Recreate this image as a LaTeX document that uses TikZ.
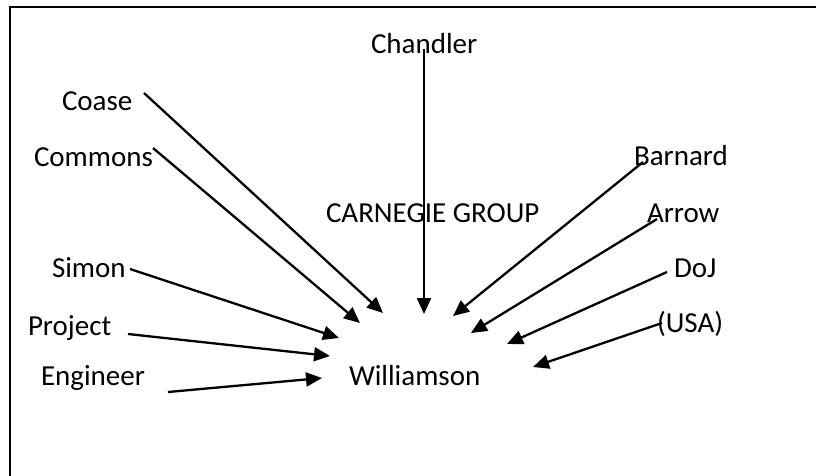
\documentclass[tikz,border=0pt]{standalone}
\usepackage{fontspec}
\setmainfont{Carlito}
\usetikzlibrary{arrows.meta}
\begin{document}
\begin{tikzpicture}[x=1pt,y=-1pt,
  label/.style={anchor=base west,inner sep=0pt,outer sep=0pt,
    font=\fontsize{29}{34}\selectfont},
  influence/.style={line width=2.3pt,-{Triangle[length=16pt,width=14pt]}}]
  \useasboundingbox (0,0) rectangle (816,475);
  % frame, open at right and bottom
  \draw[line width=2pt] (10,490) -- (10,6.5) -- (830,6.5);

  % names
  \node[label] (chandler)   at (371,53)  {Chandler};
  \node[label] (coase)      at (62,110)  {Coase};
  \node[label] (commons)    at (34,166)  {Commons};
  \node[label] (carnegie)   at (326,222) {CARNEGIE GROUP};
  \node[label] (simon)      at (52,277)  {Simon};
  \node[label] (project)    at (28,335)  {Project};
  \node[label] (engineer)   at (41,385)  {Engineer};
  \node[label] (williamson) at (349,385) {Williamson};
  \node[label] (barnard)    at (634,165) {Barnard};
  \node[label] (arrow)      at (647,222) {Arrow};
  \node[label] (doj)        at (674,277) {DoJ};
  \node[label] (usa)        at (657,332) {(USA)};

  % start points of the connectors
  \coordinate (sChandler) at (424,49);
  \coordinate (sCoase)    at (144,93);
  \coordinate (sCommons)  at (153,148);
  \coordinate (sSimon)    at (130,269);
  \coordinate (sProject)  at (128,334);
  \coordinate (sEngineer) at (168,392);
  \coordinate (sBarnard)  at (643,162);
  \coordinate (sArrow)    at (657,219);
  \coordinate (sDoj)      at (667,272);
  \coordinate (sUsa)      at (662,323);

  % arrow tips around Williamson
  \coordinate (tChandler) at (424,314);
  \coordinate (tCoase)    at (383,313);
  \coordinate (tCommons)  at (360,323);
  \coordinate (tSimon)    at (339,338);
  \coordinate (tProject)  at (330,356);
  \coordinate (tEngineer) at (322,378);
  \coordinate (tBarnard)  at (453,316);
  \coordinate (tArrow)    at (471,333);
  \coordinate (tDoj)      at (507,344);
  \coordinate (tUsa)      at (533,367);

  \foreach \n in {Chandler,Coase,Commons,Simon,Project,Engineer,Barnard,Arrow,Doj,Usa}
    \draw[influence] (s\n) -- (t\n);
\end{tikzpicture}
\end{document}
